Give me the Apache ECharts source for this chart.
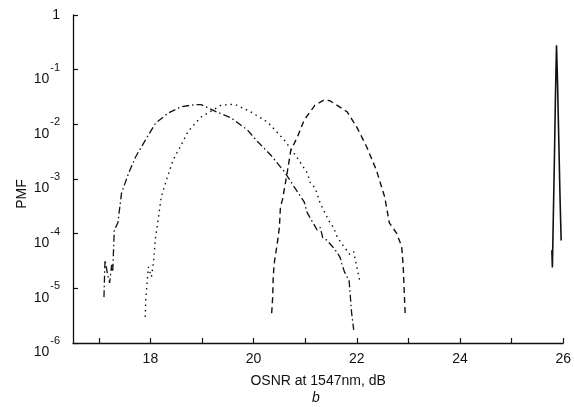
<!DOCTYPE html>
<html>
<head>
<meta charset="utf-8">
<script src="https://cdn.jsdelivr.net/npm/echarts@6/dist/echarts.min.js"></script>
<style>
  html, body { margin: 0; padding: 0; background: #fff; }
  #chart { width: 574px; height: 407px; }
</style>
</head>
<body>
<div id="chart"></div>
<script>
// OSNR (dB) vs PMF
const dashDotX = [17.10, 17.12, 17.17, 17.21, 17.25, 17.27, 17.30, 17.37, 17.44, 17.58, 17.71, 17.90, 18.10, 18.35, 18.60, 18.87, 18.98, 19.25, 19.56, 19.88, 20.08, 20.33, 20.60, 20.79, 20.98, 21.04, 21.23, 21.29, 21.34, 21.42, 21.55, 21.62, 21.68, 21.71, 21.76, 21.81, 21.85, 21.90, 21.94];
const dashDotY = [6.9e-6, 3.3e-5, 1.8e-5, 1.26e-5, 2.7e-5, 2.0e-5, 1.17e-4, 1.58e-4, 5.5e-4, 1.29e-3, 2.5e-3, 5.1e-3, 1.05e-2, 1.62e-2, 2.1e-2, 2.3e-2, 2.3e-2, 1.74e-2, 1.32e-2, 7.9e-3, 4.8e-3, 2.75e-3, 1.35e-3, 7.1e-4, 3.8e-4, 2.4e-4, 1.17e-4, 1.3e-4, 8.5e-5, 7.6e-5, 5.5e-5, 4.5e-5, 3.6e-5, 2.8e-5, 2.0e-5, 1.62e-5, 1.41e-5, 3.5e-6, 1.74e-6];

const dottedX = [17.90, 17.91, 17.96, 18.02, 18.06, 18.10, 18.15, 18.21, 18.31, 18.44, 18.58, 18.73, 18.87, 18.98, 19.37, 19.63, 19.94, 20.27, 20.60, 20.85, 21.04, 21.10, 21.19, 21.29, 21.48, 21.55, 21.62, 21.75, 21.86, 21.94, 22.00, 22.06];
const dottedY = [3.0e-6, 6.2e-6, 2.45e-5, 1.62e-5, 3.0e-5, 8.7e-5, 1.78e-4, 4.7e-4, 9.5e-4, 2.24e-3, 3.9e-3, 7.4e-3, 1.05e-2, 1.35e-2, 2.24e-2, 2.34e-2, 1.70e-2, 1.10e-2, 5.1e-3, 2.4e-3, 1.29e-3, 8.5e-4, 6.9e-4, 3.6e-4, 1.58e-4, 1.3e-4, 8.7e-5, 5.8e-5, 4.2e-5, 4.7e-5, 2.45e-5, 1.32e-5];

const dashedX = [20.35, 20.37, 20.38, 20.40, 20.46, 20.50, 20.52, 20.56, 20.65, 20.72, 20.75, 20.85, 20.98, 21.19, 21.37, 21.48, 21.81, 22.00, 22.19, 22.38, 22.54, 22.63, 22.77, 22.87, 22.90, 22.92, 22.94];
const dashedY = [3.5e-6, 6.9e-6, 1.62e-5, 2.9e-5, 6.8e-5, 1.32e-4, 3.1e-4, 4.2e-4, 1.29e-3, 3.3e-3, 3.1e-3, 5.9e-3, 1.20e-2, 2.24e-2, 2.8e-2, 2.7e-2, 1.70e-2, 8.9e-3, 3.9e-3, 1.45e-3, 4.7e-4, 1.58e-4, 1.02e-4, 5.8e-5, 2.45e-5, 8.1e-6, 3.0e-6];

const solidX = [25.78, 25.79, 25.83, 25.85, 25.87, 25.89, 25.915, 25.94, 25.96];
const solidY = [5.0e-5, 2.4e-5, 2.5e-3, 3.5e-2, 0.28, 6.0e-2, 4.7e-3, 4.0e-4, 7.5e-5];

const xTicks = [17, 18, 19, 20, 21, 22, 23, 24, 25, 26];
const xLabels = [18, 20, 22, 24, 26];
const yTicks = [1e-6, 1e-5, 1e-4, 1e-3, 1e-2, 1e-1, 1];

function pairs(xs, ys) {
    return xs.map((x, i) => [x, ys[i]]);
}

const ink = '#111';
const chart = echarts.init(document.getElementById('chart'));

function line(xs, ys, type, width) {
    return {
        type: 'line',
        data: pairs(xs, ys),
        symbol: 'none',
        smooth: false,
        lineStyle: { color: ink, width: width, type: type, cap: 'butt' }
    };
}

chart.setOption({
    animation: false,
    backgroundColor: '#fff',
    title: {
        text: 'b',
        left: 312,
        top: 391,
        padding: 0,
        textStyle: { fontFamily: 'Liberation Sans', fontSize: 14, fontStyle: 'italic', fontWeight: 'normal', color: ink }
    },
    grid: { left: 73, right: 6, top: 15, bottom: 64 },
    xAxis: {
        type: 'value',
        min: 16.5,
        max: 26,
        name: 'OSNR at 1547nm, dB',
        nameLocation: 'middle',
        nameGap: 31,
        nameTextStyle: { fontFamily: 'Liberation Sans', fontSize: 14, color: ink },
        axisLine: { lineStyle: { color: ink, width: 1.3 } },
        axisTick: { inside: true, length: 5, customValues: xTicks, lineStyle: { color: ink, width: 1.2 } },
        axisLabel: { customValues: xLabels, margin: 9, fontFamily: 'Liberation Sans', fontSize: 14, color: ink },
        splitLine: { show: false }
    },
    yAxis: {
        type: 'log',
        logBase: 10,
        min: 1e-6,
        max: 1,
        splitNumber: 6,
        name: 'PMF',
        nameLocation: 'middle',
        nameGap: 44,
        nameMoveOverlap: false,
        nameTextStyle: { fontFamily: 'Liberation Sans', fontSize: 14, color: ink, padding: [0, 30, 0, 0] },
        axisLine: { lineStyle: { color: ink, width: 1.3 } },
        axisTick: { inside: true, length: 5, customValues: yTicks, lineStyle: { color: ink, width: 1.2 } },
        axisLabel: {
            customValues: yTicks,
            margin: 13,
            padding: [9, 0, 0, 0],
            fontFamily: 'Liberation Sans',
            color: ink,
            formatter: v => {
                const e = Math.round(Math.log10(v));
                if (e === 0) return '{one|1}';
                return '{b|10}{s|' + e + '}';
            },
            rich: {
                one: { fontSize: 14, fontFamily: 'Liberation Sans', color: ink, padding: [0, 0, 9, 0] },
                b: { fontSize: 14, fontFamily: 'Liberation Sans', color: ink, lineHeight: 24, verticalAlign: 'bottom' },
                s: { fontSize: 11, fontFamily: 'Liberation Sans', color: ink, verticalAlign: 'top', padding: [0, 0, 0, 1] }
            }
        },
        splitLine: { show: false }
    },
    series: [
        line(dashDotX, dashDotY, [7, 3, 1.5, 3], 1.3),
        line(dottedX, dottedY, [1.5, 4], 1.4),
        line(dashedX, dashedY, [6, 4], 1.4),
        line(solidX, solidY, 'solid', 1.6)
    ]
});
</script>
</body>
</html>
